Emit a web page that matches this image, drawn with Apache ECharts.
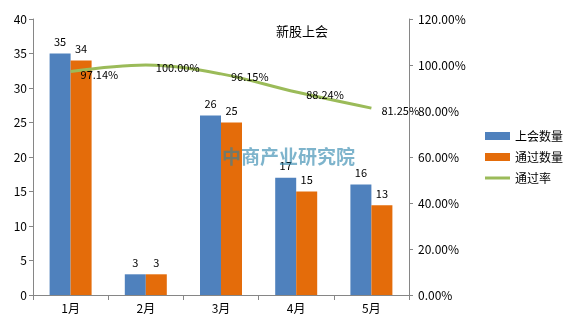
<!DOCTYPE html>
<html><head><meta charset="utf-8">
<script src="https://cdn.jsdelivr.net/npm/echarts@6/dist/echarts.min.js"></script>
<style>html,body{margin:0;padding:0;background:#fff}#c{width:570px;height:321px}</style>
</head><body><div id="c"></div>
<script>
const categories = ['1月','2月','3月','4月','5月'];
const meetingCount = [35, 3, 26, 17, 16];
const passCount = [34, 3, 25, 15, 13];
const passRate = [97.14, 100.00, 96.15, 88.24, 81.25];
const leftTicks = [0, 40, 5];
const rightTicks = [0, 120, 20];

const font = '"Microsoft YaHei","Noto Sans CJK SC",sans-serif';
const chart = echarts.init(document.getElementById('c'));
chart.setOption({
  animation: false,
  textStyle: {fontFamily: font},
  title: {text: '新股上会', left: 297, top: 20, textAlign: 'center',
    textStyle: {fontSize: 13, fontWeight: 'normal', color: '#000', fontFamily: font}},
  graphic: [{type: 'text', left: 222, top: 147, z: 100, style: {text: '中商产业研究院', fontSize: 19, fontWeight: 'bold', fontFamily: 'Noto Sans CJK SC', fill: 'rgba(40,130,170,0.6)'}}],
  legend: {orient: 'vertical', left: 480, top: 125, itemGap: 9, itemWidth: 25, itemHeight: 8,
    textStyle: {fontSize: 12, color: '#000', fontFamily: font},
    data: [{name: '上会数量', icon: 'rect'}, {name: '通过数量', icon: 'rect'},
      {name: '通过率', icon: 'path://M0,0 L25,0 L25,3 L0,3 Z'}]},
  grid: {left: 33, right: 161, top: 19, bottom: 26},
  xAxis: {type: 'category', data: categories,
    axisLine: {lineStyle: {color: '#868686'}},
    axisTick: {show: true, alignWithLabel: false, length: 5, lineStyle: {color: '#868686'}},
    axisLabel: {color: '#000', fontSize: 12, margin: 7}},
  yAxis: [
    {type: 'value', min: leftTicks[0], max: leftTicks[1], interval: leftTicks[2],
      splitLine: {show: false},
      axisLine: {show: true, lineStyle: {color: '#868686'}},
      axisTick: {show: true, length: 4, lineStyle: {color: '#868686'}},
      axisLabel: {color: '#000', fontSize: 12, margin: 6}},
    {type: 'value', min: rightTicks[0], max: rightTicks[1], interval: rightTicks[2],
      splitLine: {show: false},
      axisLine: {show: true, lineStyle: {color: '#868686'}},
      axisTick: {show: true, length: 4, lineStyle: {color: '#868686'}},
      axisLabel: {color: '#000', fontSize: 12, margin: 9, formatter: v => v.toFixed(2) + '%'}}
  ],
  series: [
    {name: '上会数量', type: 'bar', data: meetingCount, barWidth: 21, barGap: '0%',
      itemStyle: {color: '#4F81BD'},
      label: {show: true, position: 'top', color: '#000', fontSize: 11, distance: 6}},
    {name: '通过数量', type: 'bar', data: passCount, barWidth: 21, barGap: '0%',
      itemStyle: {color: '#E46C0A'},
      label: {show: true, position: 'top', color: '#000', fontSize: 11, distance: 6}},
    {name: '通过率', type: 'line', yAxisIndex: 1, data: passRate, smooth: 0.35,
      symbol: 'circle', symbolSize: 0, showSymbol: true,
      lineStyle: {color: '#9BBB59', width: 3}, itemStyle: {color: '#9BBB59'},
      label: {show: true, position: 'right', distance: 10, offset: [0, 3], color: '#000', fontSize: 11,
        formatter: p => p.value.toFixed(2) + '%'}, z: 5}
  ]
});
</script></body></html>
